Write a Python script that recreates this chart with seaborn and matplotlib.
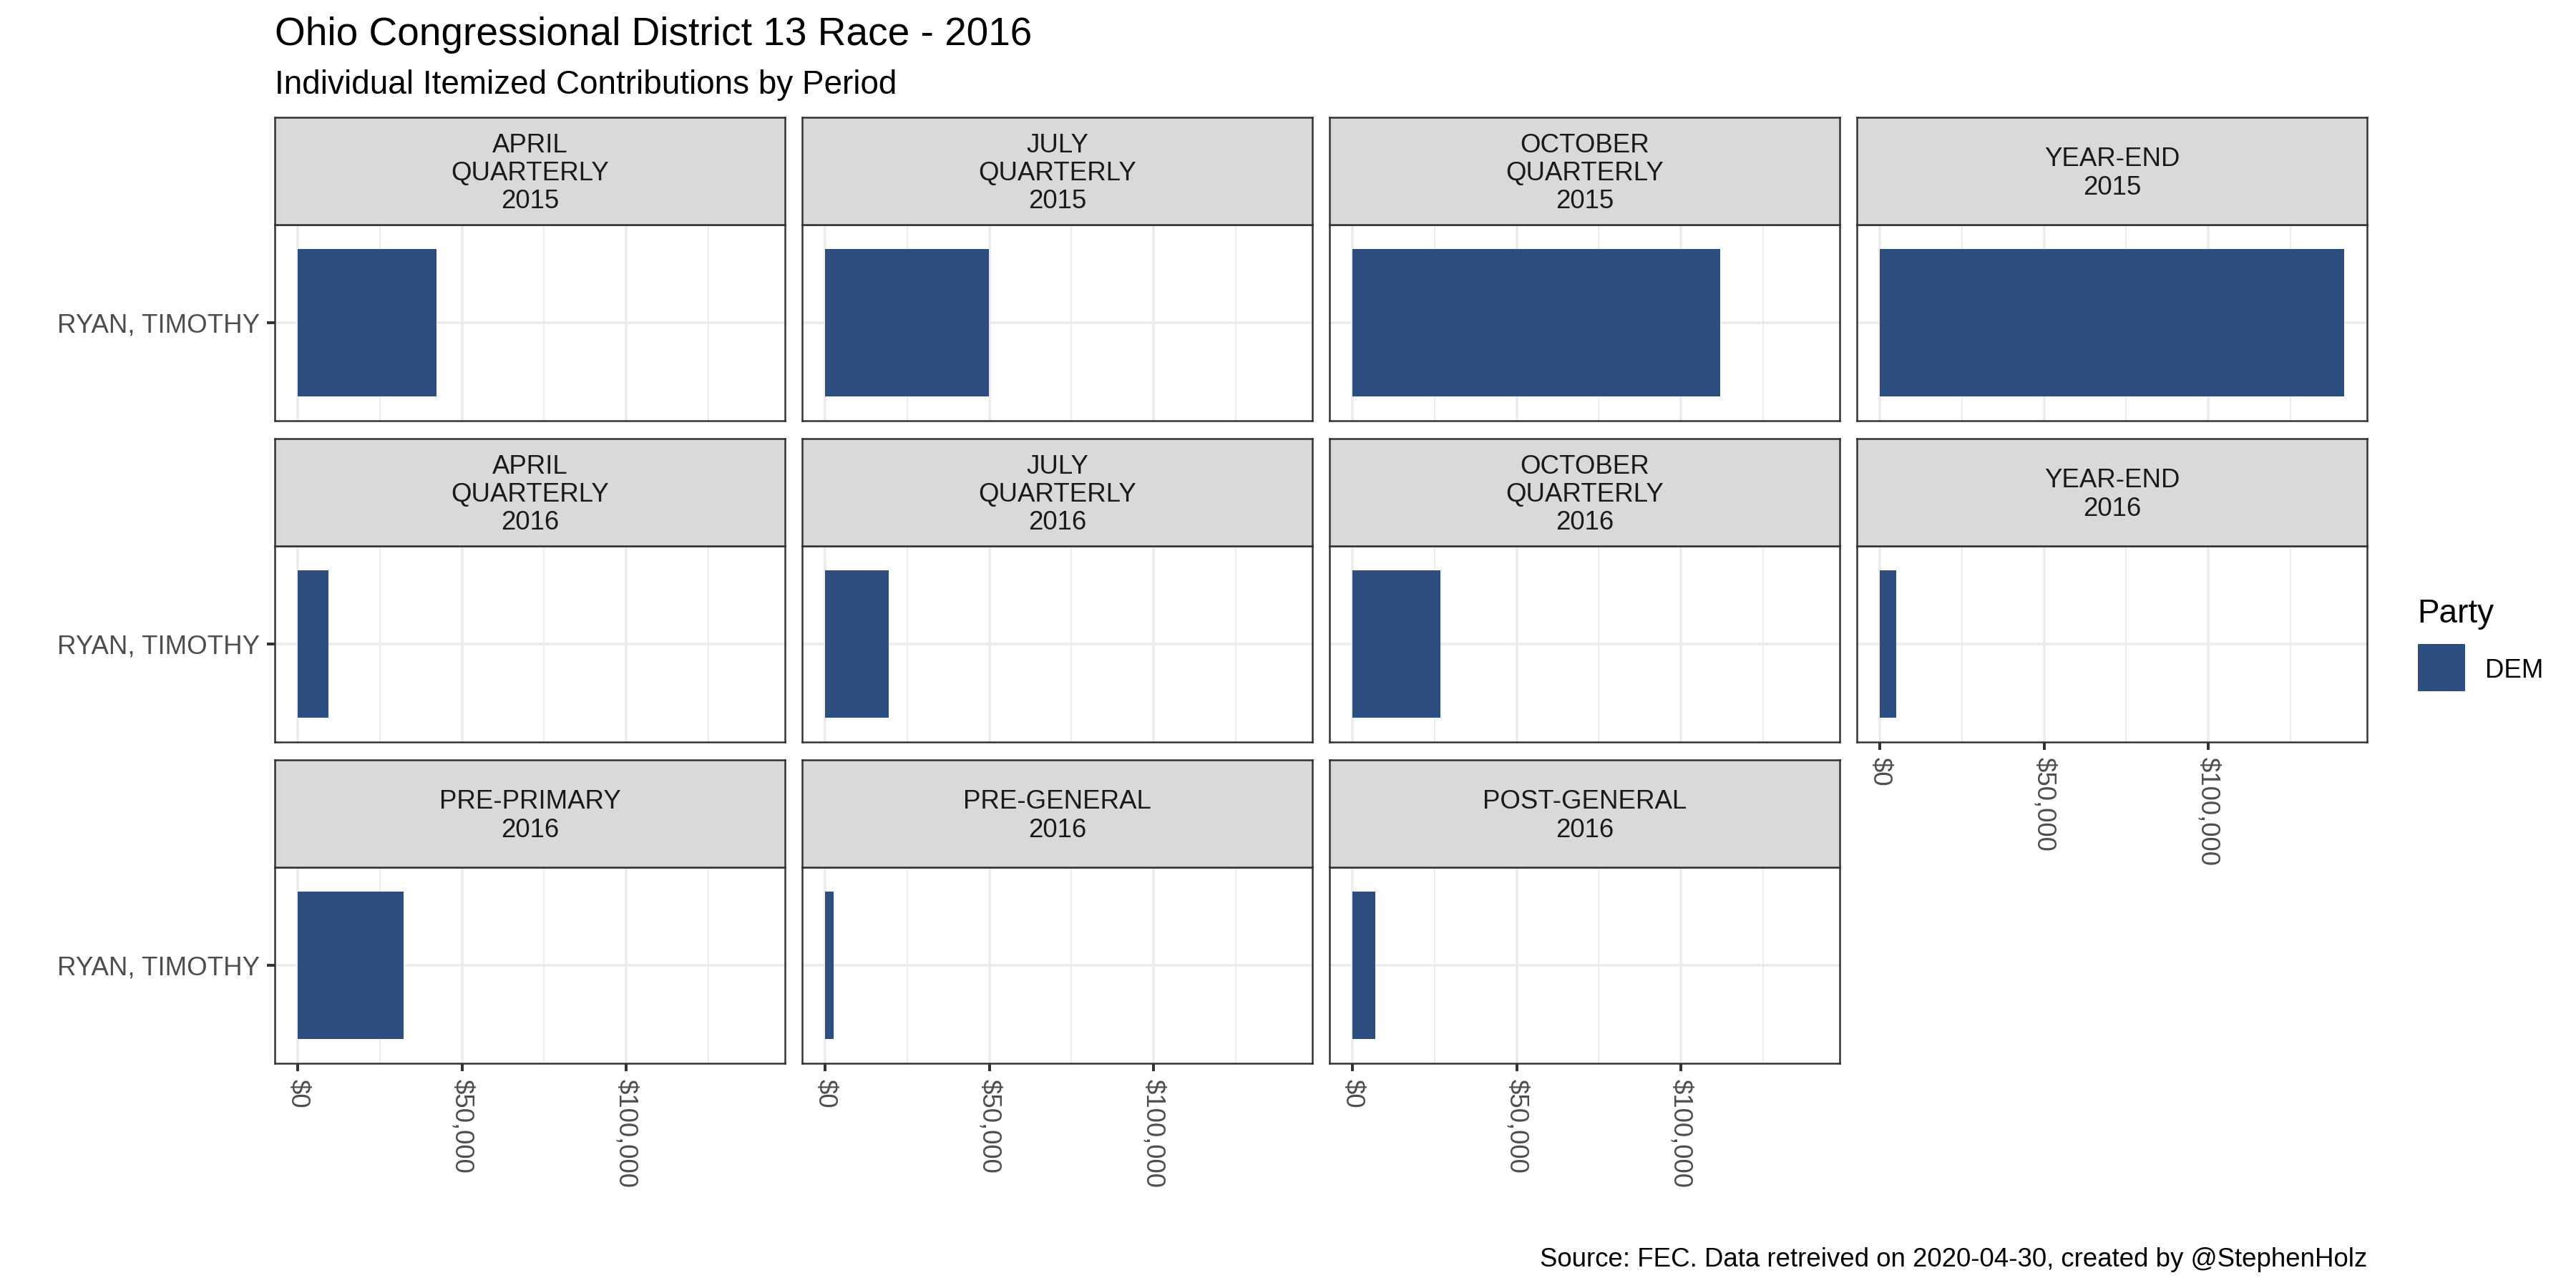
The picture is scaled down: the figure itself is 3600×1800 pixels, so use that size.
import numpy as np
import pandas as pd
import matplotlib
matplotlib.use("Agg")
import matplotlib.pyplot as plt
import matplotlib.ticker as mticker
from matplotlib.patches import Rectangle
import seaborn as sns

# ---------------- data ----------------
period_labels = [
    "APRIL\nQUARTERLY\n2015", "JULY\nQUARTERLY\n2015", "OCTOBER\nQUARTERLY\n2015", "YEAR-END\n2015",
    "APRIL\nQUARTERLY\n2016", "JULY\nQUARTERLY\n2016", "OCTOBER\nQUARTERLY\n2016", "YEAR-END\n2016",
    "PRE-PRIMARY\n2016", "PRE-GENERAL\n2016", "POST-GENERAL\n2016",
]
candidates = ["RYAN, TIMOTHY"] * 11
parties = ["DEM"] * 11
amounts = [42200, 49800, 112000, 141300,
           9200, 19300, 26700, 5000,
           32200, 2600, 6800]
party_colors = {"DEM": "#2C4E80"}
x_major = [0, 50000, 100000]
x_minor = [25000, 75000, 125000]

title = "Ohio Congressional District 13 Race - 2016"
subtitle = "Individual Itemized Contributions by Period"
caption = "Source: FEC. Data retreived on 2020-04-30, created by @StephenHolz"
legend_title = "Party"

# ---------------- style ----------------
sns.set_theme(style="white")
plt.rcParams['font.family'] = ['Liberation Sans', 'DejaVu Sans']

df = pd.DataFrame({"period": period_labels, "candidate": candidates,
                   "party": parties, "amount": amounts})

W, H = 3600, 1800
fig = plt.figure(figsize=(12, 6), dpi=300)
fig.patch.set_facecolor("white")

def fx(px):
    return px / W

def fy(py):
    return 1 - py / H

col_left = [384, 1121, 1858, 2595]
panel_w = 713
panel_top = [314, 763, 1212]
panel_h = 274
strip_h = 150
border_col = "#333333"
border_lw = 0.6
tick_len = 2.76
ncols = 4
n = len(period_labels)

xmax = df["amount"].max()

def money(v, p):
    return f"${v:,.0f}"

for i, period in enumerate(period_labels):
    r, c = divmod(i, ncols)
    left = col_left[c]
    top = panel_top[r]
    ax = fig.add_axes([fx(left), fy(top + panel_h), panel_w / W, panel_h / H])
    sub = df[df["period"] == period]
    sns.barplot(data=sub, x="amount", y="candidate", hue="party",
                palette=party_colors, orient="h", width=0.9, saturation=1,
                errorbar=None, legend=False, ax=ax, linewidth=0, edgecolor="none")
    ax.set_xlim(-0.05 * xmax, 1.05 * xmax)
    ax.set_ylim(0.6, -0.6)
    ax.set_xlabel("")
    ax.set_ylabel("")
    ax.xaxis.set_major_locator(mticker.FixedLocator(x_major))
    ax.xaxis.set_minor_locator(mticker.FixedLocator(x_minor))
    ax.xaxis.set_major_formatter(mticker.FuncFormatter(money))
    ax.set_axisbelow(True)
    ax.grid(True, which="major", axis="both", color="#EBEBEB", lw=0.85)
    ax.grid(True, which="minor", axis="x", color="#EBEBEB", lw=0.45)
    ax.tick_params(which="minor", length=0)
    for s in ax.spines.values():
        s.set_color(border_col)
        s.set_linewidth(border_lw)
        s.set_visible(True)

    # bottom-most panel in column gets x labels
    below = i + ncols
    if below >= n:
        ax.tick_params(axis="x", which="major", bottom=True, length=tick_len, width=0.96,
                       color=border_col, labelsize=8.8, labelcolor="#4D4D4D",
                       pad=2.4, labelrotation=-90, labelbottom=True)
    else:
        ax.tick_params(axis="x", which="major", bottom=False, length=0, labelbottom=False)
    if c == 0:
        ax.tick_params(axis="y", which="major", left=True, length=tick_len, width=0.96,
                       color=border_col, labelsize=8.8, labelcolor="#4D4D4D", pad=2.4,
                       labelleft=True)
    else:
        ax.tick_params(axis="y", which="major", left=False, length=0, labelleft=False)

    # strip
    stop = top - strip_h
    sax = fig.add_axes([fx(left), fy(top), panel_w / W, strip_h / H])
    sax.set_facecolor("#D9D9D9")
    sax.set_xticks([])
    sax.set_yticks([])
    for s in sax.spines.values():
        s.set_color(border_col)
        s.set_linewidth(border_lw)
        s.set_visible(True)
    lines = period.split("\n")
    center = stop + strip_h / 2
    pitch = 39.3
    for k, line in enumerate(lines):
        base = center + 13 + (k - (len(lines) - 1) / 2) * pitch
        fig.text(fx(left + panel_w / 2), fy(base), line, ha="center", va="baseline",
                 fontsize=8.8, color="#1A1A1A")

# titles
fig.text(fx(384), fy(63), title, ha="left", va="baseline", fontsize=13.2, color="black")
fig.text(fx(384), fy(131), subtitle, ha="left", va="baseline", fontsize=11, color="black")
fig.text(fx(3308), fy(1770), caption, ha="right", va="baseline", fontsize=8.8, color="black")

# legend
fig.text(fx(3378), fy(870), legend_title, ha="left", va="baseline", fontsize=11, color="black")
for j, (party, colr) in enumerate(party_colors.items()):
    ytop = 900 + j * 66
    fig.add_artist(Rectangle((fx(3379), fy(ytop + 66)), 66 / W, 66 / H,
                             transform=fig.transFigure, facecolor=colr, edgecolor="none"))
    fig.text(fx(3473), fy(ytop + 47), party, ha="left", va="baseline", fontsize=8.8, color="black")

fig.savefig("out.png", dpi=300, facecolor="white")
